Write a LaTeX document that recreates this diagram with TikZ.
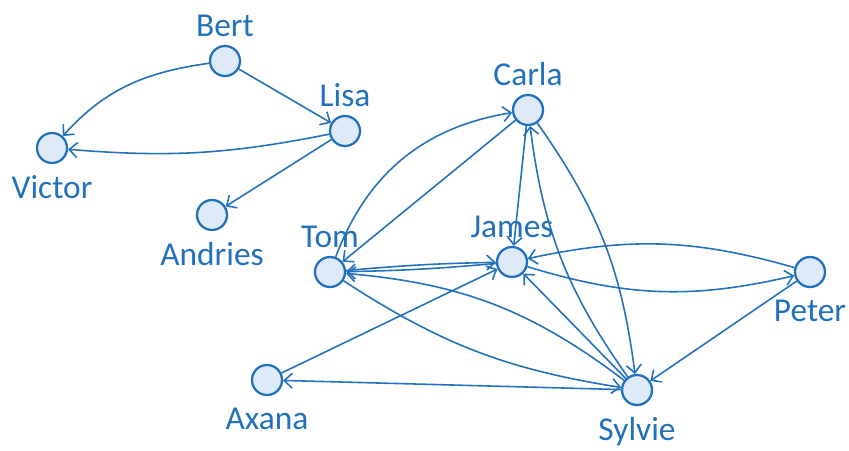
\documentclass[tikz,border=0pt]{standalone}
\usepackage{fontspec}
\setmainfont{Carlito}
\usetikzlibrary{%
	arrows.meta,%
	positioning,%
}
\definecolor{cblue}{RGB}{34, 113, 188}
\definecolor{cbluelight}{RGB}{222, 234, 247}
\tikzset{
	>={Straight Barb[length=1.6mm,width=3mm]},%
	person/.style={%
			draw=cblue,%
			circle,%
			line width=1.3pt,%
			minimum size=0.6cm,%
			inner sep=0,%
			fill=cbluelight},%
	rel/.style={%
			->,%
			draw=cblue,%
			line width=0.9pt},%
	tagabove/.style={label={[label distance=1pt]above:#1}},%
	tagbelow/.style={label={[label distance=3pt]below:#1}},%
	every label/.style={%
			text=cblue,%
			font={\fontsize{19}{22}\selectfont}},%
}

\begin{document}
\begin{tikzpicture}
	\useasboundingbox (0,0) rectangle (16.98,9);

	\node[person, tagabove=Bert] (bert) at (4.50,7.78) {};
	\node[person, tagabove=Lisa] (lisa) at (6.90,6.38) {};
	\node[person, tagbelow=Victor] (victor) at (1.04,6.04) {};
	\node[person, tagbelow=Andries] (andries) at (4.24,4.70) {};
	\node[person, tagabove=Carla] (carla) at (10.56,6.80) {};
	\node[person, tagabove=Tom] (tom) at (6.60,3.56) {};
	\node[person, tagabove=James] (james) at (10.24,3.76) {};
	\node[person, tagbelow=Peter] (peter) at (16.20,3.56) {};
	\node[person, tagbelow=Axana] (axana) at (5.34,1.40) {};
	\node[person, tagbelow=Sylvie] (sylvie) at (12.74,1.20) {};

	\draw[rel] (bert) to[out=188, in=48] (victor);
	\draw[rel] (bert) -- (lisa);
	\draw[rel] (lisa) to[bend left=8] (victor);
	\draw[rel] (lisa) -- (andries);

	\draw[rel] (tom) to[bend left=30] (carla);
	\draw[rel] (carla) -- (tom);
	\draw[rel] (carla) -- (james);
	\draw[rel] (sylvie) to[bend left=14] (carla);
	\draw[rel] (carla) to[bend left=14] (sylvie);
	\draw[rel] (peter) to[bend right=14] (james);
	\draw[rel] (james) to[bend right=15] (peter);
	\draw[rel] (tom) to[bend left=2] (james);
	\draw[rel] (james) to[bend left=2] (tom);
	\draw[rel] (axana) -- (james);
	\draw[rel] (sylvie) -- (axana);
	\draw[rel] (sylvie) to[bend right=16] (tom);
	\draw[rel] (tom) to[bend right=12] (sylvie);
	\draw[rel] (sylvie) -- (james);
	\draw[rel] (peter) -- (sylvie);
\end{tikzpicture}
\end{document}
